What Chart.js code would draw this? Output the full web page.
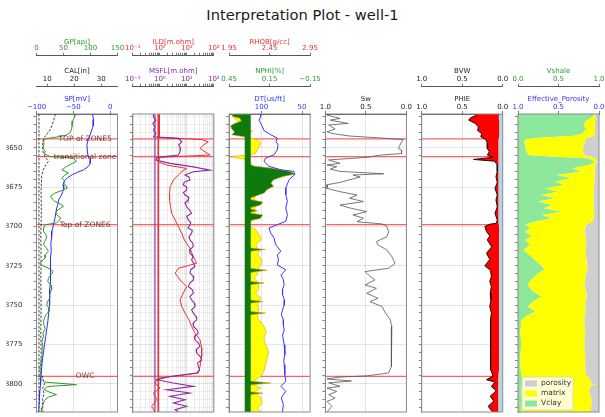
<!DOCTYPE html>
<html>
<head>
<meta charset="utf-8">
<script src="https://cdn.jsdelivr.net/npm/chart.js@4.4.1/dist/chart.umd.min.js"></script>
<style>
  html, body { margin: 0; padding: 0; background: #ffffff; }
  #wrap { position: relative; width: 605px; height: 417px; overflow: hidden; background: #ffffff; }
  #wrap canvas { position: absolute; left: 0; top: 0; }
  #title { position: absolute; left: 0; top: 6px; width: 605px; text-align: center;
           font-family: 'DejaVu Sans', sans-serif; font-size: 14.7px; line-height: 18px; color: #1a1a1a; }
</style>
</head>
<body>
<div id="wrap">
  <div id="title">Interpretation Plot - well-1</div>
  <canvas id="c1" width="605" height="417"></canvas>
  <canvas id="c2" width="605" height="417"></canvas>
  <canvas id="c3" width="605" height="417"></canvas>
  <canvas id="c4" width="605" height="417"></canvas>
  <canvas id="c5" width="605" height="417"></canvas>
  <canvas id="c6" width="605" height="417"></canvas>
</div>
<script>
// ---------------- depth frame and zone tops ----------------
const DEPTH_MIN = 8628.5;
const DEPTH_MAX = 8818;
const depthLabels = [8650, 8675, 8700, 8725, 8750, 8775, 8800];
const zoneDepths = [8644.3, 8655.6, 8698.8, 8795.4];
const zoneNames = ['TOP of ZONE5', 'transitional zone', 'Top of ZONE6', 'OWC'];

// ---------------- track 1: GP / CAL / SP ----------------
const gpTicks = [0, 50, 100, 150];
const calTicks = [10, 20, 30];
const spTicks = [-100, -50, 0];
const gpLog = [
  [8628.5,70],[8630,71],[8633,67],[8636,66],[8638,65],[8640.5,62],[8642,55],[8643,40],[8644.3,16],[8646,13],
  [8648,14],[8650,12],[8652.3,16],[8654,15],[8655.5,25],[8656.5,68],[8658.6,74],[8660,66],[8661.8,56],[8664,47],
  [8666,59],[8667.5,52],[8669.2,47],[8671,52],[8672.4,50],[8674,55],[8675.6,57],[8677,48],[8678.8,34],[8680.9,26],
  [8682.5,29],[8684,34],[8686,45],[8687.2,50],[8689.4,40],[8691,36],[8692.5,37],[8694.6,45],[8696,42],[8697.8,37],
  [8698.9,16],[8701,13],[8703,13],[8705,17],[8707.3,19],[8709.5,15],[8711.6,13],[8713.5,18],[8715.8,22],[8718,16],
  [8720,16],[8722,10],[8723.4,7],[8725,12],[8727,25],[8728.7,31],[8731,26],[8733,22],[8735,21],[8737.5,27],
  [8740,28],[8742,26],[8743.5,24],[8745.5,25],[8748,20],[8750,19],[8752,23],[8754,23],[8756,18],[8758,15],
  [8760.5,13],[8763,14],[8765,16],[8768,12],[8770,13],[8773,10],[8776,12],[8778,10],[8781.6,11],[8784,9],
  [8787,8],[8790,6],[8793,7],[8796,6],[8799,15],[8800.6,74],[8801.8,20],[8803.8,14],[8805.5,25],[8807,37],
  [8808.5,22],[8810.5,15],[8813.3,12],[8815.5,10],[8818,9]
];
const spLog = [
  [8628.5,-24],[8632,-22.5],[8636,-23],[8640,-26],[8643,-28],[8645,-30],[8648,-31.5],[8652,-31],[8655,-30],[8657,-27],
  [8660,-27],[8662,-30],[8664,-36],[8665.5,-44],[8667,-51],[8669,-58],[8671,-62],[8673.5,-64],[8676,-63],[8678,-64.5],
  [8680,-66],[8683,-70],[8686,-71],[8688.3,-72.5],[8692,-74],[8695,-75],[8699,-77],[8703,-79],[8707,-79.5],[8711,-80.5],
  [8716,-80],[8720,-81],[8725,-80.5],[8730,-81.5],[8735,-81],[8740,-82],[8745,-82.5],[8750,-82],[8755,-83.5],[8760,-84.5],
  [8765,-86],[8770,-87.5],[8775,-89],[8780,-90.5],[8785,-92],[8790,-93],[8795,-94],[8800,-94.5],[8805,-95.5],[8810,-96],
  [8818,-97]
];
const calLog = [
  [8628.5,13],[8631,12.6],[8633.5,12.2],[8636,11.7],[8638.6,11],[8641.4,9.8],[8643.5,8.8],[8645,8.5],[8649,8.2],[8653.5,8.5],
  [8656.5,9.5],[8658.6,10.4],[8660.8,9.5],[8664,8.5],[8668,7.9],[8678,7.7],[8690,7.8],[8705,7.6],[8720,7.7],[8735,7.6],
  [8750,7.7],[8765,7.6],[8780,7.7],[8793,7.7],[8797,8.4],[8800,9.0],[8803,8.3],[8806,8.8],[8810,8.2],[8818,8.4]
];
const bitSize = 6.9;

// ---------------- track 2: ILD / MSFL (log) ----------------
const resLabelTicks = [0.1, 1, 10, 100];
const ildLog = [
  [8628.5,0.95],[8632,1.0],[8636,0.95],[8640,1.0],[8643.5,0.95],[8644.7,35.6],[8646.2,62.7],[8648.3,41],[8650.4,30.8],[8652.5,47.2],
  [8654.6,72.3],[8656.1,1.02],[8658.9,0.88],[8661,1.8],[8663.1,9.9],[8665.2,6.5],[8667.3,4.9],[8670.5,3.2],[8674.8,2.4],[8680,2.3],
  [8683.2,2.3],[8687.5,2.5],[8691.6,2.75],[8695.9,3.7],[8700.1,4.9],[8704.3,6.5],[8708.6,8.1],[8713.9,13.1],[8719.2,17.5],[8723.4,23.2],
  [8726.6,4.9],[8729.7,3.7],[8734,5.6],[8738.2,9.9],[8742.4,7.4],[8746.7,5.6],[8750.9,6.5],[8755.1,8.6],[8759.4,12],[8763.6,15.1],
  [8767.8,20.1],[8772.1,30.8],[8777.3,35.6],[8782.7,35.6],[8789,30.8],[8793.2,26.7],[8795.4,3.2],[8796.4,0.88],[8799.6,0.66],[8802.7,1.02],
  [8805.9,0.58],[8810.2,0.77],[8814.4,0.5],[8818,0.66]
];
const msflLog = [
  [8628.5,0.58],[8630.3,0.58],[8632.4,0.72],[8634.5,0.55],[8636.7,0.66],[8638.8,0.58],[8640.9,0.72],[8643,0.58],[8644,4.9],[8646.2,6.5],
  [8648.3,5.0],[8650.4,5.9],[8652.5,5.6],[8654.6,4.9],[8656.1,0.77],[8657.8,0.72],[8659.9,2.4],[8662.1,17.5],[8664.2,72],[8665.2,17.5],
  [8667.3,8.6],[8668.5,12],[8670.5,13.1],[8671.8,8],[8673.7,7.4],[8675,10],[8676.9,9.9],[8678.3,7.5],[8680,8.6],[8681.5,12],
  [8683.2,11.4],[8685,8.5],[8687.5,9.9],[8689.5,12.5],[8691.6,15.1],[8693.5,10],[8695.9,11.4],[8697.5,14],[8699,13.1],[8701,11],
  [8702.5,16],[8704.3,15.1],[8706.5,12],[8708.6,13.1],[8710.5,16.5],[8712.8,17.5],[8715,12.5],[8717,13.1],[8719,17],[8721.3,15.1],
  [8723.5,18],[8725.5,20.1],[8727.5,14],[8729.7,13.1],[8732,18],[8734,17.5],[8736,13],[8738.2,11.4],[8740.3,16],[8742.4,17.5],
  [8744.5,13],[8746.7,15.1],[8748.8,19],[8750.9,20.1],[8753,15],[8755.1,17.5],[8757.2,22],[8759.4,23.2],[8761.5,17],[8763.6,17.5],
  [8765.7,24],[8767.8,26.7],[8770,19],[8772.1,20.1],[8774.2,27],[8776.3,30.8],[8778.4,22],[8780.5,23.2],[8782.6,31],[8784.8,35.6],
  [8786.9,25],[8789,26.7],[8791,30],[8793.2,23.2],[8795.4,2.4],[8797.5,0.77],[8799.6,3.2],[8801.7,17.5],[8803.8,1.8],[8805.9,13.1],
  [8808,2.4],[8810.2,8.6],[8812.3,3.2],[8814.4,9.9],[8816.5,3.7],[8818,5]
];
const ildBaseline = 0.88;
const msflBaseline = 0.66;

// ---------------- track 3: RHOB / NPHI / DT ----------------
const rhobTicks = [1.95, 2.45, 2.95];
const nphiTicks = [0.45, 0.15, -0.15];
const dtTicks = [100, 50];
const densityCutoff = 2.18;
const rhobLog = [
  [8628.5,2.05],[8629,2.05],[8631.1,2.01],[8633.2,2.07],[8635.4,2.14],[8637.5,2.20],[8639.6,2.24],[8641.7,2.175],[8643.4,2.18],[8644.9,2.30],
  [8647,2.34],[8649.1,2.32],[8651.3,2.30],[8653.4,2.28],[8654.4,2.22],[8655.5,1.97],[8656.5,2.05],[8657.6,2.18],[8659.7,2.22],[8661.8,2.24],
  [8665,2.26],[8669.2,2.28],[8673.5,2.257],[8677.7,2.278],[8681.9,2.265],[8686.2,2.278],[8690.4,2.265],[8694.6,2.278],[8697.8,2.217],[8698.9,2.18],
  [8702,2.28],[8705.2,2.32],[8708.4,2.35],[8711.6,2.28],[8713.7,2.30],[8715.8,2.32],[8717.9,2.30],[8720,2.34],[8722.4,2.36],[8725.5,2.32],
  [8730.8,2.30],[8732.9,2.257],[8735.1,2.30],[8739.3,2.32],[8742.4,2.278],[8745.6,2.34],[8749.9,2.30],[8752,2.32],[8758.3,2.30],[8760.5,2.34],
  [8763.6,2.38],[8766.8,2.41],[8771,2.38],[8775.3,2.40],[8779.5,2.44],[8783.7,2.42],[8788,2.40],[8792.2,2.38],[8795.4,2.34],[8797.5,2.278],
  [8799.6,2.217],[8802.8,2.34],[8804.9,2.278],[8809.1,2.34],[8812.3,2.36],[8815.5,2.30],[8818,2.34]
];
const nphiLog = [
  [8628.5,0.42],[8630,0.43],[8631.2,0.37],[8633,0.36],[8634.5,0.41],[8636,0.44],[8638,0.43],[8640,0.41],[8641.7,0.43],[8643,0.34],
  [8644,0.31],[8660,0.31],[8661.5,0.27],[8663,0.13],[8665,0.0],[8666.7,-0.04],[8668.2,0.05],[8670.3,0.12],[8672.4,0.14],[8674.5,0.12],
  [8676.6,0.17],[8678.8,0.19],[8680.9,0.26],[8682.5,0.31],[8684.5,0.20],[8686.5,0.22],[8688.5,0.31],[8690,0.24],[8691.3,0.31],[8692.7,0.20],
  [8695,0.22],[8696.5,0.31],[8713.5,0.31],[8714.7,0.18],[8715.9,0.31],[8726.5,0.31],[8727.8,0.17],[8729.5,0.31],[8734.8,0.31],[8736,0.19],
  [8737.2,0.31],[8746.6,0.31],[8747.8,0.20],[8749,0.31],[8754,0.31],[8755.1,0.18],[8756.3,0.31],[8798.3,0.31],[8799.6,0.14],[8800.9,0.31],
  [8805,0.31],[8806,0.20],[8807,0.31],[8818,0.31]
];
const dtLog = [
  [8628.5,101],[8630,101],[8632.5,103],[8636.4,99],[8639,97],[8641.7,88.6],[8643.8,80.5],[8646,82],[8648.1,79.6],[8651.3,80.5],
  [8654.4,84.6],[8656.5,94.8],[8658.6,97],[8661.8,90.7],[8664,76],[8665,60],[8667.1,59],[8670.3,66],[8673,68],[8675.6,70],
  [8679.8,70],[8684,68],[8688.3,70],[8692.5,68],[8696.7,70],[8698.9,80.5],[8701,90.7],[8704.2,88.6],[8707.3,84.6],[8711.6,82.5],
  [8715.8,76],[8718.1,80.5],[8721,79],[8724.5,80.5],[8727.6,70],[8730.8,76],[8734,73],[8737.2,72],[8740,74],[8743.5,74],
  [8747,71.5],[8750,72],[8753,74],[8756.2,75.5],[8759.4,73],[8762.6,73],[8766,72],[8769,74],[8772,73],[8775.3,72],
  [8778.5,71],[8781.6,71.4],[8785,72.5],[8788,72],[8791,71],[8794.3,71.4],[8798.5,70],[8801.7,76],[8804.9,70],[8807,73],
  [8809.1,75.5],[8813.3,73],[8817.6,74],[8818,74]
];

// ---------------- track 4: Sw ----------------
const fracTicks = [0, 0.5, 1];
const swLog = [
  [8628.5,0.98],[8629.2,0.98],[8631.3,0.82],[8632.4,0.94],[8634.5,0.72],[8635.5,0.96],[8638,0.88],[8639.8,0.98],[8640.9,0.92],[8642.5,0.70],
  [8643.7,0.33],[8644.8,0.04],[8646.3,0.06],[8648.3,0.08],[8650.4,0.10],[8651.5,0.06],[8653.6,0.06],[8654.7,0.33],[8656.1,0.49],[8657.7,0.96],
  [8659.9,0.82],[8660.9,0.98],[8662,0.86],[8663.5,0.94],[8665,0.82],[8666.5,0.28],[8667.3,0.66],[8668.6,0.57],[8670.3,0.70],[8672,0.82],
  [8673.5,0.98],[8675.8,0.98],[8677.9,0.82],[8680,0.61],[8682.1,0.70],[8684.2,0.53],[8686.4,0.82],[8688.5,0.68],[8690.6,0.49],[8692.7,0.66],
  [8694.8,0.53],[8697,0.61],[8698.4,0.30],[8700.1,0.24],[8703.3,0.22],[8706.5,0.24],[8709.6,0.37],[8711.8,0.35],[8715,0.24],[8719.2,0.18],
  [8723.4,0.14],[8726.6,0.22],[8728.7,0.51],[8730.8,0.47],[8734,0.39],[8737.2,0.51],[8739.3,0.37],[8742.5,0.49],[8745.7,0.35],[8747.8,0.45],
  [8751,0.30],[8755,0.26],[8759.3,0.20],[8763.6,0.18],[8767.8,0.18],[8772,0.19],[8780.5,0.18],[8789,0.19],[8793.2,0.22],[8795,0.49],
  [8795.8,0.82],[8797,0.98],[8798.3,0.68],[8799.4,0.96],[8801.7,0.82],[8802.8,0.98],[8804.9,0.86],[8807,0.96],[8809.2,0.88],[8811.3,0.98],
  [8814.4,0.92],[8818,0.98]
];

// ---------------- track 5: PHIE / BVW ----------------
const t5Depth = [8628.5,8629.2,8631,8632.4,8634.5,8636.7,8639,8640.9,8643,8644.7,8647,8650.4,8652.5,8654.6,8656,8657.4,8658.5,8661,8665,8668.4,
  8672,8675.8,8680,8683.2,8687.5,8691.6,8696,8698,8698.6,8700,8703.3,8706,8708.6,8713,8717,8721,8725,8728,8732,8735,
  8738.2,8742.5,8746.7,8751,8755,8759,8763.6,8768,8772,8778,8784.8,8791,8795,8797.5,8799,8801.7,8804.5,8808,8811,8814.4,8818];
const phieLog = [0.33,0.32,0.40,0.42,0.34,0.30,0.31,0.26,0.27,0.21,0.19,0.19,0.165,0.19,0.12,0.36,0.10,0.067,0.067,0.083,
  0.067,0.095,0.067,0.083,0.067,0.095,0.067,0.08,0.16,0.22,0.20,0.16,0.19,0.136,0.20,0.16,0.22,0.15,0.14,0.16,
  0.14,0.155,0.145,0.16,0.14,0.15,0.155,0.145,0.155,0.15,0.145,0.15,0.12,0.20,0.095,0.14,0.08,0.155,0.11,0.18,0.125];
const bvwLog = [0.045,0.045,0.05,0.045,0.045,0.04,0.045,0.045,0.045,0.05,0.05,0.05,0.05,0.05,0.05,0.05,0.05,0.055,0.055,0.055,
  0.055,0.055,0.055,0.055,0.055,0.055,0.055,0.055,0.05,0.045,0.045,0.045,0.045,0.045,0.045,0.045,0.045,0.045,0.045,0.045,
  0.045,0.045,0.045,0.045,0.045,0.045,0.045,0.045,0.045,0.045,0.045,0.045,0.05,0.055,0.055,0.055,0.055,0.055,0.055,0.055,0.055];

// ---------------- track 6: Vshale / effective porosity ----------------
const t6Depth = [8628.5,8630,8633.5,8636,8637.7,8639.5,8641,8642.5,8643.5,8644.5,8646,8649.4,8652,8654.6,8655.5,8656.7,8659,8661,8663,8665.2,
  8667.3,8669.4,8671.5,8673.7,8675.8,8677.9,8680,8682.1,8684.2,8686.4,8688.5,8690.6,8692.7,8694.8,8697,8698.6,8701,8703.3,8706,8708.6,
  8711.5,8715,8719,8723.3,8727,8730.8,8734,8737.2,8741,8744.6,8748,8751,8754,8757.3,8760,8767.8,8775,8782,8789,8794,
  8798,8800,8800.6,8801.2,8805,8810,8818];
const vshLog = [0.93,0.93,0.83,0.81,0.85,0.82,0.79,0.67,0.30,0.10,0.08,0.09,0.10,0.13,0.40,0.87,0.96,0.87,0.67,0.78,
  0.48,0.67,0.46,0.57,0.33,0.50,0.29,0.46,0.25,0.42,0.32,0.54,0.30,0.42,0.21,0.09,0.15,0.09,0.17,0.09,
  0.15,0.07,0.16,0.25,0.33,0.23,0.16,0.12,0.18,0.29,0.18,0.12,0.22,0.09,0.04,0.03,0.04,0.03,0.03,0.04,
  0.06,0.05,0.95,0.05,0.04,0.05,0.04];
const phiEffLog = [0.04,0.04,0.05,0.05,0.05,0.05,0.05,0.06,0.12,0.18,0.17,0.19,0.20,0.18,0.10,0.04,0.03,0.04,0.05,0.05,
  0.06,0.05,0.06,0.06,0.07,0.06,0.07,0.06,0.07,0.06,0.07,0.05,0.07,0.06,0.08,0.15,0.17,0.18,0.16,0.17,
  0.15,0.17,0.16,0.15,0.14,0.16,0.17,0.18,0.16,0.15,0.17,0.17,0.16,0.18,0.18,0.17,0.18,0.17,0.17,0.16,
  0.10,0.09,0.03,0.10,0.12,0.09,0.10];

// ---------------- styling and layout ----------------
Chart.defaults.font.family = "'DejaVu Sans', sans-serif";
Chart.defaults.font.size = 7;
Chart.defaults.color = '#333333';

const COLORS = {
  gp: '#2a9a2a', sp: '#2b2bff', cal: '#111111', ild: '#ee3030', msfl: '#8a2aa0',
  rhob: '#ee3030', nphi: '#2a9a2a', dt: '#3434ff', shale: '#0e7a0e', gas: '#ffff00', edge: '#d9a400',
  sw: '#555555', phie: '#111111', hc: '#ff0000', water: '#add8e6',
  clay: '#8de89c', matrix: '#ffff00', pore: '#cfcfcf', vsh: '#2a9a2a', eff: '#3434ff'
};
const GRID = 'rgba(0,0,0,0.13)';
const GRID_MINOR = 'rgba(0,0,0,0.07)';
const AXIS = '#555555';
const FRAME = '#8a8a8a';
const FONT_PX = 7;
const LINE_H = FONT_PX * 1.2;
const TRACK_LEFT0 = 36.5, TRACK_STEP = 96.3, TRACK_W = 81;
const PLOT_BOTTOM = 412;
const ROWS = [
  { titleY: 41.7, borderY: 55.7 },
  { titleY: 70.8, borderY: 86.7 },
  { titleY: 99.2, borderY: 114 }
];

const depthTickValues = [];
for (let d = 8630; d <= 8815; d += 5) depthTickValues.push(d);

const logTickValues = [];
[0.1, 1, 10].forEach(dec => { for (let m = 1; m <= 9; m++) logTickValues.push(+(m * dec).toFixed(2)); });
logTickValues.push(100);

const minus = s => String(s).replace('-', '\u2212');
const fmtInt = v => minus(Math.round(v));
const fmt1 = v => v.toFixed(1);
const fmt2 = v => minus(v.toFixed(2));
const SUP = { '-1': '\u207b\u00b9', '0': '\u2070', '1': '\u00b9', '2': '\u00b2' };
const fmtLog = v => {
  const e = Math.log10(v);
  const r = Math.round(e);
  return Math.abs(e - r) < 1e-6 ? '10' + SUP[String(r)] : '';
};

const pairsToPoints = pairs => pairs.map(([d, v]) => ({ x: v, y: d }));
const columnsToPoints = (depths, values) => depths.map((d, i) => ({ x: values[i], y: d }));
const constantLine = v => [{ x: v, y: DEPTH_MIN }, { x: v, y: DEPTH_MAX }];

function curve(label, data, axisId, color, extra) {
  return Object.assign({
    label, data, xAxisID: axisId, yAxisID: 'y',
    borderColor: color, backgroundColor: color, borderWidth: 1,
    pointRadius: 0, tension: 0, fill: false, clip: 0
  }, extra || {});
}

function topAxis(ax, height, titlePad, weight) {
  return {
    type: ax.type || 'linear', axis: 'x', position: 'top', weight,
    min: ax.min, max: ax.max, reverse: !!ax.reverse, bounds: 'data',
    afterBuildTicks: s => { s.ticks = ax.ticks.map(v => ({ value: v })); },
    afterFit: s => { s.height = height; s.paddingLeft = 0; s.paddingRight = 0; },
    ticks: {
      display: !ax.hidden, autoSkip: false, maxRotation: 0, minRotation: 0, padding: 0,
      color: ax.color, font: { size: FONT_PX }, callback: v => ax.fmt(v)
    },
    title: {
      display: !ax.hidden, text: ax.title || '', color: ax.color,
      font: { size: FONT_PX }, padding: { top: titlePad, bottom: 0 }
    },
    grid: {
      drawOnChartArea: !!ax.grid, drawTicks: !ax.hidden, tickLength: 3,
      tickColor: AXIS, tickWidth: 0.8, lineWidth: 0.8,
      color: ax.gridColor || GRID
    },
    border: { display: !ax.hidden, color: AXIS, width: 1 }
  };
}

function depthAxis(width, showLabels, minorGrid) {
  return {
    type: 'linear', position: 'left', reverse: true, min: DEPTH_MIN, max: DEPTH_MAX, bounds: 'data',
    afterBuildTicks: s => { s.ticks = depthTickValues.map(v => ({ value: v })); },
    afterFit: s => { s.width = width; s.paddingTop = 0; s.paddingBottom = 0; },
    ticks: {
      autoSkip: false, padding: 11, color: '#333333', font: { size: FONT_PX },
      callback: v => (showLabels && depthLabels.includes(v)) ? String(v) : ''
    },
    grid: {
      drawTicks: true, tickLength: 3, tickColor: '#666666', tickWidth: 0.8, lineWidth: 0.8,
      color: c => {
        if (!c.tick) return 'rgba(0,0,0,0)';
        if (depthLabels.includes(c.tick.value)) return GRID;
        return minorGrid ? GRID_MINOR : 'rgba(0,0,0,0)';
      }
    },
    border: { display: true, color: FRAME, width: 1 }
  };
}

// Box around each track
const framePlugin = {
  id: 'trackFrame',
  afterDraw(chart) {
    const { ctx, chartArea: a } = chart;
    ctx.save();
    ctx.strokeStyle = FRAME;
    ctx.lineWidth = 1;
    ctx.strokeRect(a.left, a.top, a.right - a.left, a.bottom - a.top);
    ctx.restore();
  }
};

// Zone tops: red markers across the track, names in the first track
const zonePlugin = {
  id: 'zoneTops',
  beforeDatasetsDraw(chart, args, opts) {
    if (!opts.lines) return;
    const { ctx, chartArea: a } = chart;
    const y = chart.scales.y;
    ctx.save();
    ctx.strokeStyle = 'rgba(255,70,70,0.85)';
    ctx.lineWidth = 1.2;
    zoneDepths.forEach(d => {
      const py = y.getPixelForValue(d);
      ctx.beginPath(); ctx.moveTo(a.left, py); ctx.lineTo(a.right, py); ctx.stroke();
    });
    ctx.restore();
  },
  afterDatasetsDraw(chart, args, opts) {
    if (!opts.labels) return;
    const { ctx, chartArea: a } = chart;
    const y = chart.scales.y;
    const cx = a.left + (a.right - a.left) * 0.6;
    ctx.save();
    ctx.font = "7.5px 'DejaVu Sans', sans-serif";
    ctx.fillStyle = 'rgba(100,55,45,0.95)';
    ctx.textAlign = 'center';
    ctx.textBaseline = 'middle';
    zoneNames.forEach((name, i) => ctx.fillText(name, cx, y.getPixelForValue(zoneDepths[i])));
    ctx.restore();
  }
};

// Lithology key drawn inside the last track
const keyPlugin = {
  id: 'lithoKey',
  afterDatasetsDraw(chart, args, opts) {
    if (!opts.show) return;
    const { ctx, chartArea: a } = chart;
    const items = chart.data.datasets.map(ds => ({ label: ds.label, color: ds.backgroundColor }));
    const rowH = 10, w = 51, h = items.length * rowH + 3;
    const x0 = a.left + 4, y0 = a.bottom - 2 - h;
    ctx.save();
    ctx.fillStyle = 'rgba(255,255,255,0.82)';
    ctx.strokeStyle = '#cfcfcf';
    ctx.lineWidth = 0.8;
    ctx.beginPath();
    ctx.roundRect(x0, y0, w, h, 2);
    ctx.fill(); ctx.stroke();
    ctx.font = "7.5px 'DejaVu Sans', sans-serif";
    ctx.textBaseline = 'middle';
    items.forEach((it, i) => {
      const cy = y0 + 1.5 + rowH * i + rowH / 2;
      ctx.fillStyle = it.color;
      ctx.fillRect(x0 + 3, cy - 3, 12, 6);
      ctx.fillStyle = '#333333';
      ctx.fillText(it.label, x0 + 19, cy);
    });
    ctx.restore();
  }
};

function buildTrack(canvasId, index, axes, datasets, opts) {
  const left = TRACK_LEFT0 + TRACK_STEP * index;
  const right = left + TRACK_W;
  const yWidth = opts.yWidth || 15;
  const scales = {};
  let top = ROWS[axes[0].row].titleY - LINE_H / 2;
  const padTop = top;
  axes.forEach((ax, i) => {
    const row = ROWS[ax.row];
    const h = row.borderY - top;
    const tpad = row.titleY - LINE_H / 2 - top;
    scales[ax.id] = topAxis(ax, h, tpad, 100 - i);
    top = row.borderY;
  });
  scales.y = depthAxis(yWidth, !!opts.depthLabels, !!opts.minorGrid);
  return new Chart(document.getElementById(canvasId), {
    type: 'line',
    data: { datasets },
    options: {
      responsive: false, animation: false, events: [],
      indexAxis: 'y',
      layout: { padding: { left: left - yWidth, right: 605 - right, top: padTop, bottom: 417 - PLOT_BOTTOM } },
      scales,
      plugins: {
        legend: { display: false }, tooltip: { enabled: false }, title: { display: false },
        zoneTops: opts.zones || {}, lithoKey: opts.key || {}
      }
    },
    plugins: [zonePlugin, keyPlugin, framePlugin]
  });
}

// Track 1
buildTrack('c1', 0, [
  { id: 'gp', row: 0, min: 0, max: 150, ticks: gpTicks, fmt: fmtInt, title: 'GP[api]', color: COLORS.gp },
  { id: 'cal', row: 1, min: 6, max: 36, ticks: calTicks, fmt: fmtInt, title: 'CAL[in]', color: '#222222' },
  { id: 'sp', row: 2, min: -100, max: 10, ticks: spTicks, fmt: fmtInt, title: 'SP[mV]', color: COLORS.sp, grid: true }
], [
  curve('GP', pairsToPoints(gpLog), 'gp', COLORS.gp),
  curve('SP', pairsToPoints(spLog), 'sp', COLORS.sp),
  curve('CAL', pairsToPoints(calLog), 'cal', COLORS.cal, { borderWidth: 0.8, borderDash: [2.5, 1.5] }),
  curve('BS', constantLine(bitSize), 'cal', COLORS.cal, { borderWidth: 0.8, borderDash: [2.5, 1.5] })
], { yWidth: 30, depthLabels: true, zones: { lines: true, labels: true } });

// Track 2
buildTrack('c2', 1, [
  { id: 'ild', type: 'logarithmic', row: 0, min: 0.1, max: 100, ticks: logTickValues, fmt: fmtLog, title: 'ILD[m.ohm]', color: COLORS.ild },
  { id: 'msfl', type: 'logarithmic', row: 1, min: 0.1, max: 100, ticks: logTickValues, fmt: fmtLog, title: 'MSFL[m.ohm]', color: COLORS.msfl },
  { id: 'resGrid', type: 'logarithmic', row: 2, min: 0.1, max: 100, ticks: logTickValues, fmt: () => '', hidden: true, grid: true,
    gridColor: c => (c.tick && resLabelTicks.some(t => Math.abs(t - c.tick.value) < 1e-9)) ? 'rgba(0,0,0,0.16)' : 'rgba(0,0,0,0.09)' }
], [
  curve('MSFL', pairsToPoints(msflLog), 'msfl', COLORS.msfl, { borderWidth: 1.1 }),
  curve('ILD', pairsToPoints(ildLog), 'ild', COLORS.ild),
  curve('MSFL base', constantLine(msflBaseline), 'msfl', COLORS.msfl, { borderWidth: 1.1 }),
  curve('ILD base', constantLine(ildBaseline), 'ild', COLORS.ild)
], { minorGrid: true, zones: { lines: true } });

// Track 3
buildTrack('c3', 2, [
  { id: 'rhob', row: 0, min: 1.95, max: 2.95, ticks: rhobTicks, fmt: fmt2, title: 'RHOB[g/cc]', color: COLORS.rhob },
  { id: 'nphi', row: 1, min: -0.15, max: 0.45, reverse: true, ticks: nphiTicks, fmt: fmt2, title: 'NPHI[%]', color: COLORS.nphi },
  { id: 'dt', row: 2, min: 40, max: 140, reverse: true, ticks: dtTicks, fmt: fmtInt, title: 'DT[us/ft]', color: COLORS.dt, grid: true }
], [
  curve('cutoff', constantLine(densityCutoff), 'rhob', COLORS.shale, { borderWidth: 6 }),
  curve('DT', pairsToPoints(dtLog), 'dt', COLORS.dt),
  curve('NPHI', pairsToPoints(nphiLog), 'nphi', COLORS.edge, { borderWidth: 0.6, backgroundColor: COLORS.shale, fill: 0 }),
  curve('RHOB', pairsToPoints(rhobLog), 'rhob', COLORS.edge, { borderWidth: 0.6, backgroundColor: COLORS.gas, fill: 0 })
], { zones: { lines: true } });

// Track 4
buildTrack('c4', 3, [
  { id: 'sw', row: 2, min: 0, max: 1, reverse: true, ticks: fracTicks, fmt: fmt1, title: 'Sw', color: '#222222', grid: true }
], [
  curve('Sw', pairsToPoints(swLog), 'sw', COLORS.sw, { borderWidth: 0.8 })
], { zones: { lines: true } });

// Track 5
buildTrack('c5', 4, [
  { id: 'bvw', row: 1, min: 0, max: 1, reverse: true, ticks: fracTicks, fmt: fmt1, title: 'BVW', color: '#222222' },
  { id: 'phie', row: 2, min: 0, max: 1, reverse: true, ticks: fracTicks, fmt: fmt1, title: 'PHIE', color: '#222222', grid: true }
], [
  curve('PHIE', columnsToPoints(t5Depth, phieLog), 'phie', COLORS.phie, { backgroundColor: COLORS.hc, fill: 1 }),
  curve('BVW', columnsToPoints(t5Depth, bvwLog), 'bvw', 'rgba(0,0,0,0)', { borderWidth: 0, backgroundColor: COLORS.water, fill: { value: 0 } })
], { zones: { lines: true } });

// Track 6
buildTrack('c6', 5, [
  { id: 'vsh', row: 1, min: 0, max: 1, ticks: fracTicks, fmt: fmt1, title: 'Vshale', color: COLORS.vsh },
  { id: 'eff', row: 2, min: 0, max: 1, reverse: true, ticks: fracTicks, fmt: fmt1, title: 'Effective_Porosity', color: COLORS.eff }
], [
  curve('porosity', columnsToPoints(t6Depth, phiEffLog), 'eff', 'rgba(0,0,0,0)', { borderWidth: 0, backgroundColor: COLORS.pore, fill: { value: 0 } }),
  curve('matrix', columnsToPoints(t6Depth, vshLog), 'vsh', 'rgba(0,0,0,0)', { borderWidth: 0, backgroundColor: COLORS.matrix, fill: 0 }),
  curve('Vclay', columnsToPoints(t6Depth, vshLog), 'vsh', 'rgba(0,0,0,0)', { borderWidth: 0, backgroundColor: COLORS.clay, fill: { value: 0 } })
], { key: { show: true } });
</script>
</body>
</html>
